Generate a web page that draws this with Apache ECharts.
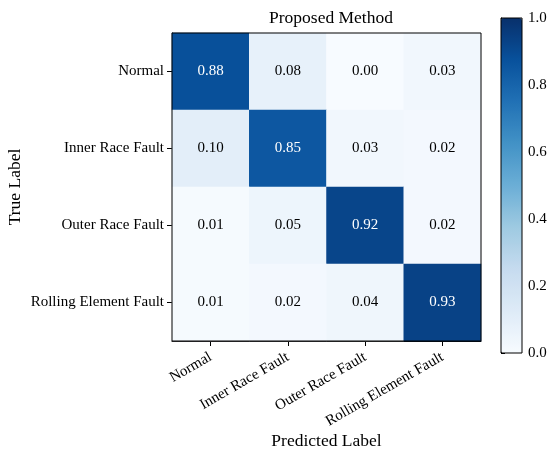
<!DOCTYPE html>
<html>
<head>
<meta charset="utf-8">
<script src="https://cdn.jsdelivr.net/npm/echarts@6/dist/echarts.min.js"></script>
<style>
html,body{margin:0;padding:0;background:#fff;}
#chart{width:550px;height:454px;}
</style>
</head>
<body>
<div id="chart"></div>
<script>
var categories = ['Normal', 'Inner Race Fault', 'Outer Race Fault', 'Rolling Element Fault'];
var rowNormal = [0.88, 0.08, 0.00, 0.03];
var rowInner = [0.10, 0.85, 0.03, 0.02];
var rowOuter = [0.01, 0.05, 0.92, 0.02];
var rowRolling = [0.01, 0.02, 0.04, 0.93];
var colorbarTicks = [0, 0.2, 0.4, 0.6, 0.8, 1.0];
var titleText = 'Proposed Method';
var xName = 'Predicted Label';
var yName = 'True Label';

var rows = [rowNormal, rowInner, rowOuter, rowRolling];
var blues = ['#f7fbff', '#deebf7', '#c6dbef', '#9ecae1', '#6baed6', '#4292c6', '#2171b5', '#08519c', '#08306b'];
var FONT = "'Liberation Serif', 'Times New Roman', serif";

var data = [];
rows.forEach(function (row, i) {
  row.forEach(function (v, j) {
    data.push({
      value: [j, i, v],
      label: { color: v > 0.5 ? '#ffffff' : '#000000' }
    });
  });
});

var chart = echarts.init(document.getElementById('chart'));
chart.setOption({
  backgroundColor: '#ffffff',
  animation: false,
  textStyle: { fontFamily: FONT },
  title: {
    text: titleText,
    left: 326, top: 4, textAlign: 'center',
    textStyle: { fontFamily: FONT, fontSize: 17.5, fontWeight: 'normal', color: '#000' }
  },
  grid: [
    { left: 172, top: 33, width: 309, height: 308, outerBoundsMode: 'none', containLabel: false, show: true, borderColor: '#000', borderWidth: 1, backgroundColor: 'transparent', z: 5 },
    { left: 501, top: 18, width: 21, height: 335, outerBoundsMode: 'none', containLabel: false, show: true, borderColor: '#000', borderWidth: 1, backgroundColor: 'transparent', z: 5 }
  ],
  xAxis: [
    {
      type: 'category', gridIndex: 0, data: categories,
      name: xName, nameLocation: 'middle', nameGap: 91, nameMoveOverlap: false,
      nameTextStyle: { fontFamily: FONT, fontSize: 17.5, color: '#000' },
      axisLine: { show: true, lineStyle: { color: '#000', width: 1 } },
      axisTick: { show: true, alignWithLabel: true, length: 5, lineStyle: { color: '#000' } },
      axisLabel: { rotate: 30, margin: 15, fontFamily: FONT, fontSize: 15, color: '#000' },
      splitLine: { show: false }, splitArea: { show: false }
    },
    {
      type: 'value', gridIndex: 1, min: 0, max: 1, show: false
    }
  ],
  yAxis: [
    {
      type: 'category', gridIndex: 0, data: categories, inverse: true,
      name: yName, nameLocation: 'middle', nameGap: 148, nameMoveOverlap: false,
      nameTextStyle: { fontFamily: FONT, fontSize: 17.5, color: '#000' },
      axisLine: { show: true, lineStyle: { color: '#000', width: 1 } },
      axisTick: { show: true, alignWithLabel: true, length: 5, lineStyle: { color: '#000' } },
      axisLabel: { margin: 8, fontFamily: FONT, fontSize: 15, color: '#000' },
      splitLine: { show: false }, splitArea: { show: false }
    },
    {
      type: 'value', gridIndex: 1, position: 'right', min: colorbarTicks[0], max: colorbarTicks[colorbarTicks.length - 1], interval: 0.2,
      axisLine: { show: true, lineStyle: { color: '#000', width: 1 } },
      axisTick: { show: true, length: 4, lineStyle: { color: '#000' } },
      axisLabel: { margin: 6, fontFamily: FONT, fontSize: 15, color: '#000', formatter: function (v) { return v.toFixed(1); } },
      splitLine: { show: false }
    }
  ],
  visualMap: {
    type: 'continuous', min: 0, max: 1, calculable: false, hoverLink: false,
    orient: 'vertical', left: 501, top: 18, itemWidth: 21, itemHeight: 335,
    padding: 0, text: ['', ''], showLabel: false, textGap: 0,
    inRange: { color: blues },
    seriesIndex: 0
  },
  series: [{
    type: 'heatmap', xAxisIndex: 0, yAxisIndex: 0, data: data,
    label: {
      show: true, fontFamily: FONT, fontSize: 15,
      formatter: function (p) { return p.value[2].toFixed(2); }
    },
    itemStyle: { borderWidth: 0 },
    emphasis: { disabled: true }
  }]
});
</script>
</body>
</html>
